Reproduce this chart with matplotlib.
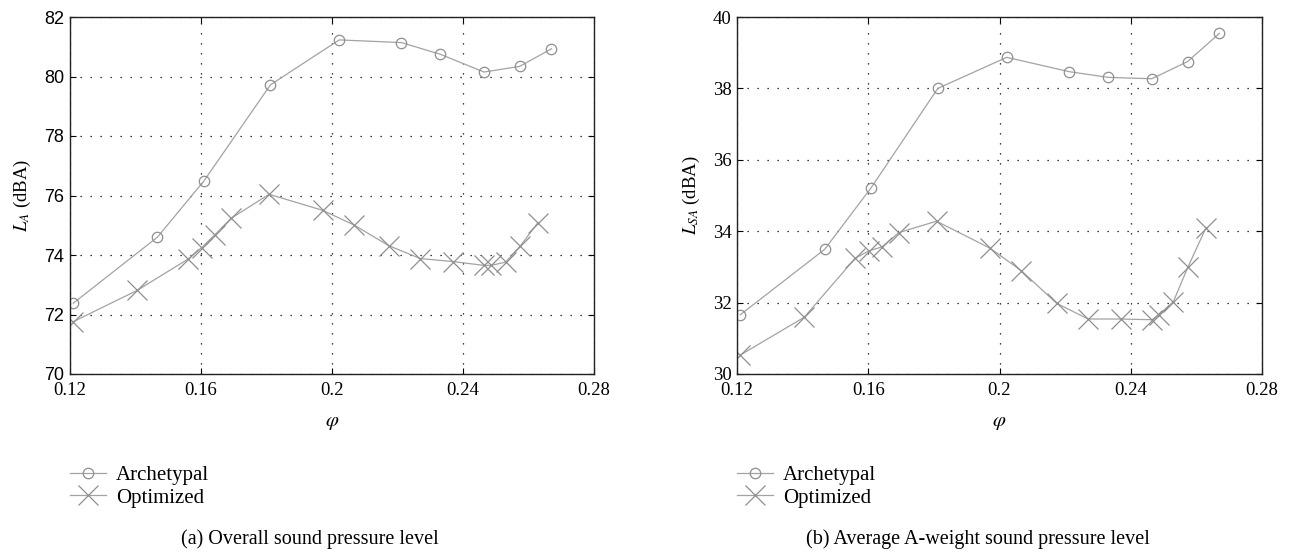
import numpy as np
import matplotlib
matplotlib.use("Agg")
import matplotlib.pyplot as plt

plt.rcParams['font.family'] = ['Liberation Serif', 'DejaVu Serif']
plt.rcParams['mathtext.fontset'] = 'stix'

# archetypal impeller, phi values and levels
phi_arch = [0.121, 0.1467, 0.1609, 0.1812, 0.2022, 0.2212, 0.2330, 0.2464, 0.2573, 0.2670]
la_arch = [72.38, 74.60, 76.49, 79.72, 81.23, 81.14, 80.75, 80.15, 80.34, 80.93]
lsa_arch = [31.66, 33.49, 35.22, 38.00, 38.87, 38.47, 38.31, 38.27, 38.75, 39.54]

# optimized impeller
phi_opt = [0.121, 0.1405, 0.1560, 0.1602, 0.1642, 0.1693, 0.1808, 0.1972, 0.2067,
           0.2174, 0.2270, 0.2369, 0.2465, 0.2486, 0.2530, 0.2574, 0.2629]
la_opt = [71.76, 72.81, 73.86, 74.25, 74.68, 75.24, 76.04, 75.50, 75.01,
          74.31, 73.88, 73.78, 73.65, 73.65, 73.76, 74.29, 75.09]
lsa_opt = [30.53, 31.59, 33.24, 33.45, 33.56, 33.96, 34.28, 33.52, 32.89,
           31.98, 31.54, 31.54, 31.52, 31.66, 32.03, 32.99, 34.09]

xticks = [0.12, 0.16, 0.2, 0.24, 0.28]
xticklabels = ['0.12', '0.16', '0.2', '0.24', '0.28']

W, H = 1297, 553
fig = plt.figure(figsize=(W / 100, H / 100), dpi=100)

line_col = '#a3a3a3'
mark_col = '#8f8f8f'


def make_panel(left_px, width_px, y_arch, y_opt, ylim, yticks, ylabel, caption, sans_y):
    ax = fig.add_axes([left_px / W, (H - 374) / H, width_px / W, 357 / H])
    ax.plot(phi_arch, y_arch, color=line_col, lw=0.9, marker='o', ms=7.5,
            mfc='none', mec=mark_col, mew=0.9, label='Archetypal')
    ax.plot(phi_opt, y_opt, color=line_col, lw=0.9, marker='x', ms=14,
            mec=mark_col, mew=0.9, label='Optimized')
    ax.set_xlim(0.12, 0.28)
    ax.set_ylim(*ylim)
    ax.set_xticks(xticks)
    ax.set_xticklabels(xticklabels, fontsize=13.5)
    ax.set_yticks(yticks)
    if sans_y:
        ax.set_yticklabels([str(v) for v in yticks], fontsize=13, family='Liberation Sans')
    else:
        ax.set_yticklabels([str(v) for v in yticks], fontsize=13.5)
    ax.tick_params(direction='in', top=True, right=True, length=4, width=0.8, pad=4)
    ax.tick_params(axis='x', pad=6)
    ax.grid(True, color='black', lw=0.9, linestyle=(0, (1, 7)))
    for s in ax.spines.values():
        s.set_linewidth(1.0)
        s.set_color('#222222')
    ax.set_xlabel(r'$\varphi$', fontsize=15, labelpad=10)
    ax.set_ylabel(ylabel, fontsize=13.5, labelpad=8)
    ax.legend(loc='upper left', bbox_to_anchor=((left_px - 8) / W, 1 - 457 / H),
              bbox_transform=fig.transFigure, frameon=False, fontsize=15,
              handlelength=1.7, handletextpad=0.5, labelspacing=0.15,
              borderaxespad=0)
    fig.text((left_px + width_px / 2 - 22) / W, 1 - 539 / H, caption,
             ha='center', va='center', fontsize=14.5)
    return ax


make_panel(70, 524, la_arch, la_opt, (70, 82), [70, 72, 74, 76, 78, 80, 82],
           r'$L_A$ (dBA)', '(a) Overall sound pressure level', True)
make_panel(737, 525, lsa_arch, lsa_opt, (30, 40), [30, 32, 34, 36, 38, 40],
           r'$L_{SA}$ (dBA)', '(b) Average A-weight sound pressure level', False)

fig.savefig('out.png', dpi=100)
